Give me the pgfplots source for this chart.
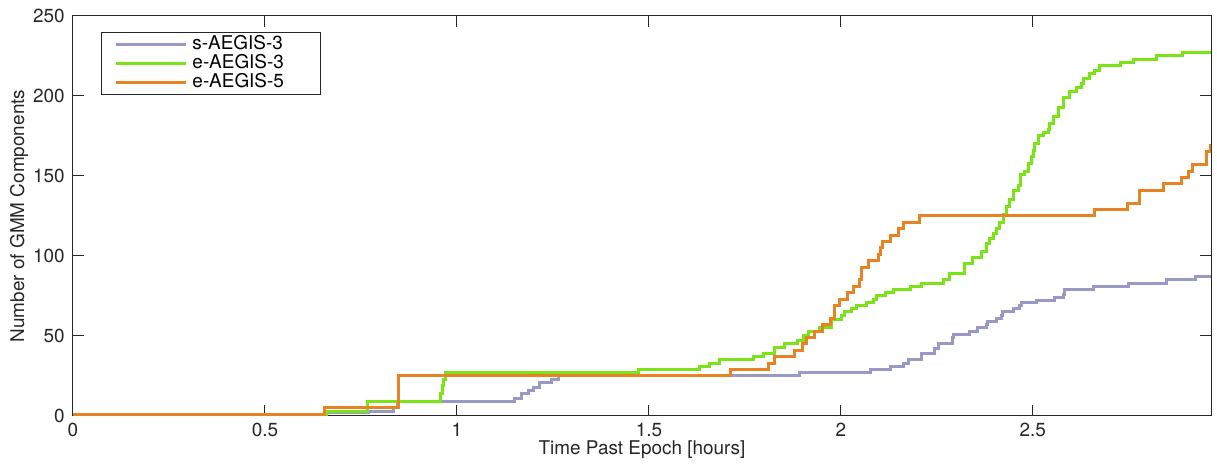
\documentclass[border=0pt]{standalone}
\usepackage{pgfplots}
\pgfplotsset{compat=1.18}
\usepackage{fontspec}
\setmainfont{TeX Gyre Heros}
\definecolor{axgray}{RGB}{38,38,38}
\definecolor{cpurple}{RGB}{153,153,198}
\definecolor{cgreen}{RGB}{122,228,24}
\definecolor{corange}{RGB}{232,131,35}
\newcommand{\legtext}[1]{\makebox[90pt][l]{\hspace{3.75pt}#1}}
\begin{document}
\begin{tikzpicture}
\begin{axis}[
  scale only axis,
  width=853.5pt, height=300pt,
  xmin=0, xmax=2.964, ymin=0, ymax=250,
  xtick={0,0.5,1,1.5,2,2.5},
  ytick={0,50,100,150,200,250},
  tick align=inside,
  major tick length=8.6pt,
  every tick/.style={axgray, line width=0.75pt},
  axis line style={axgray, line width=0.75pt},
  tick label style={font=\fontsize{14.2}{17}\selectfont, text=axgray},
  xticklabel style={yshift=-2pt},
  yticklabel style={xshift=-2.7pt},
  /pgf/number format/assume math mode=true,
  label style={font=\fontsize{14.2}{17}\selectfont, text=axgray},
  xlabel={Time Past Epoch [hours]},
  ylabel={Number of GMM Components},
  xlabel style={at={(axis description cs:0.5,-0.085)}, anchor=center},
  ylabel style={at={(axis description cs:-0.04745,0.5)}, anchor=center},
  legend style={at={(0.0246,0.96)}, anchor=north west, draw=axgray, line width=0.75pt,
    fill=white, inner xsep=9.75pt, inner ysep=2pt, row sep=0pt, column sep=0pt,
    font=\fontsize{14.2}{17}\selectfont, text=black,
    nodes={inner sep=0pt, text height=10.5pt, text depth=3.7pt}},
  legend cell align=left,
  legend image code/.code={\draw[#1] (0pt,0pt) -- (52.5pt,0pt);},
  every axis plot/.append style={line width=2.25pt, const plot},
]
\addplot[cpurple] coordinates {
(0,1) (0.659,2) (0.770,3) (0.834,5) (0.845,9) (1.151,11) (1.168,14) (1.186,16)
(1.199,18) (1.216,21) (1.247,23) (1.264,25) (1.893,27) (2.078,29) (2.128,31)
(2.162,33) (2.175,35) (2.210,39) (2.245,42) (2.253,45) (2.291,49) (2.294,51)
(2.336,53) (2.355,55) (2.378,57) (2.381,59) (2.405,61) (2.418,63) (2.421,65)
(2.449,67) (2.466,69) (2.471,71) (2.510,72) (2.557,74) (2.579,76) (2.583,79)
(2.657,81) (2.748,83) (2.848,85) (2.924,87) (2.964,87)
};
\addlegendentry{\legtext{s-AEGIS-3}}
\addplot[cgreen] coordinates {
(0,1) (0.659,3) (0.766,9) (0.958,14) (0.962,19) (0.966,23) (0.969,27) (1.474,29)
(1.633,31) (1.659,33) (1.683,35) (1.772,37) (1.798,39) (1.828,43) (1.854,45)
(1.886,47) (1.902,50) (1.915,53) (1.945,55) (1.976,60) (2.002,63) (2.010,65)
(2.028,67) (2.041,69) (2.067,71) (2.084,73) (2.093,75) (2.115,77) (2.136,79)
(2.180,81) (2.210,83) (2.266,85) (2.284,89) (2.323,95) (2.343,99) (2.366,103)
(2.379,108) (2.388,111) (2.397,114) (2.405,117) (2.414,121) (2.423,126) (2.431,131)
(2.440,135) (2.449,141) (2.462,144) (2.468,151) (2.479,153) (2.488,158) (2.497,162)
(2.501,166) (2.505,170) (2.514,175) (2.527,177) (2.540,179) (2.544,183) (2.553,187)
(2.566,193) (2.581,199) (2.596,203) (2.614,205) (2.627,208) (2.631,211) (2.648,214)
(2.661,216) (2.674,219) (2.727,221) (2.761,223) (2.822,225) (2.890,227) (2.964,227)
};
\addlegendentry{\legtext{e-AEGIS-3}}
\addplot[corange] coordinates {
(0,1) (0.654,5) (0.849,25) (1.713,29) (1.811,33) (1.826,37) (1.878,41) (1.900,45)
(1.911,49) (1.930,53) (1.952,57) (1.973,61) (1.984,69) (1.997,73) (2.016,77)
(2.032,81) (2.049,85) (2.054,93) (2.071,97) (2.097,101) (2.103,105) (2.108,109)
(2.129,113) (2.149,117) (2.162,121) (2.206,125) (2.660,129) (2.747,133) (2.779,141)
(2.839,145) (2.887,149) (2.905,153) (2.916,157) (2.952,165) (2.962,169) (2.964,169)
};
\addlegendentry{\legtext{e-AEGIS-5}}
\end{axis}
\pgfresetboundingbox
\path ([shift={(-54.75pt,-37.5pt)}]current axis.south west) rectangle ([shift={(4.5pt,12pt)}]current axis.north east);
\end{tikzpicture}
\end{document}
